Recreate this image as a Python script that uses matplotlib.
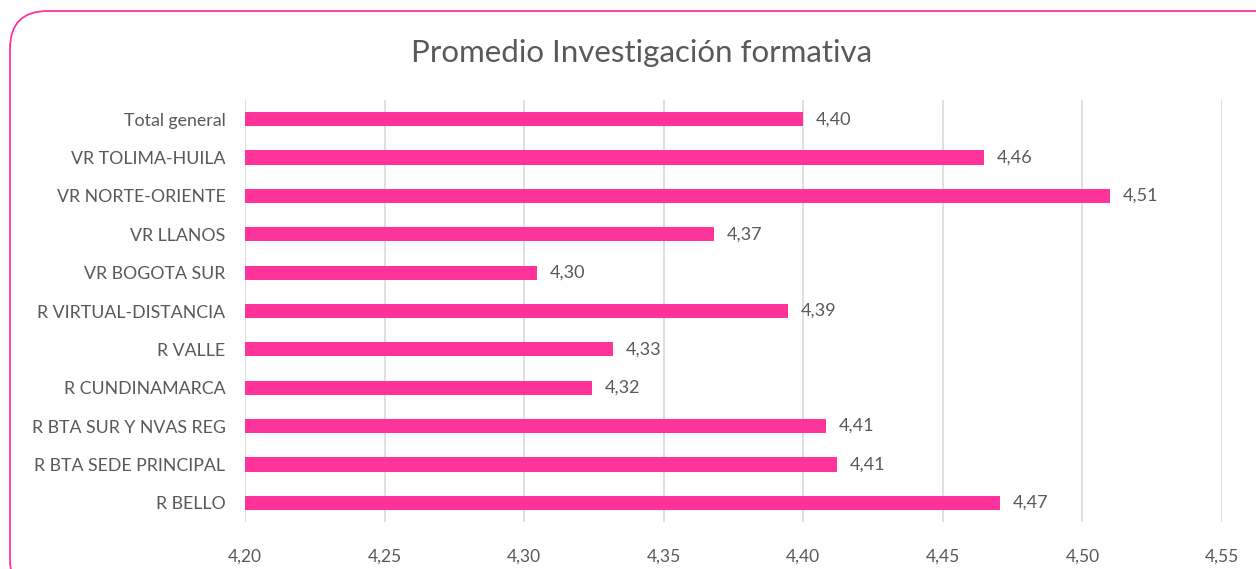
import matplotlib
matplotlib.use("Agg")
import matplotlib.pyplot as plt
from matplotlib.patches import FancyBboxPatch
import numpy as np

categorias = ['R BELLO', 'R BTA SEDE PRINCIPAL', 'R BTA SUR Y NVAS REG', 'R CUNDINAMARCA',
              'R VALLE', 'R VIRTUAL-DISTANCIA', 'VR BOGOTA SUR', 'VR LLANOS',
              'VR NORTE-ORIENTE', 'VR TOLIMA-HUILA', 'Total general']
promedios = [4.4705, 4.4121, 4.4082, 4.3243, 4.3319, 4.3946, 4.3046, 4.368, 4.5099, 4.4648, 4.400]
ticks_x = [4.20, 4.25, 4.30, 4.35, 4.40, 4.45, 4.50, 4.55]

rosa = '#FF3399'
gris = '#595959'
plt.rcParams['font.family'] = ['Lato', 'DejaVu Sans']

fig = plt.figure(figsize=(12.56, 5.69), dpi=100)
ax = fig.add_axes([0.195, 0.0826, 0.778, 0.7416])

y = np.arange(len(categorias))
ax.barh(y, [p - 4.2 for p in promedios], left=4.2, height=0.37, color=rosa, zorder=3)
for yi, p in zip(y, promedios):
    ax.text(p + 0.0045, yi, ('%.2f' % p).replace('.', ','), va='center', ha='left',
            fontsize=13, color=gris)

ax.set_xlim(4.2, 4.55)
ax.set_ylim(-0.5, 10.5)
ax.set_xticks(ticks_x)
ax.set_xticklabels([('%.2f' % t).replace('.', ',') for t in ticks_x], fontsize=12.5, color=gris)
ax.set_yticks(y)
ax.set_yticklabels(categorias, fontsize=12.8, color=gris)
ax.tick_params(length=0, pad=19, axis='x')
ax.tick_params(length=0, pad=14, axis='y')
ax.grid(axis='x', color='#D9D9D9', linewidth=1.2, zorder=0)
for s in ax.spines.values():
    s.set_visible(False)

fig.text(0.511, 0.907, 'Promedio Investigación formativa', ha='center', va='center',
         fontsize=22.5, color=gris)

borde = FancyBboxPatch((10 / 1256, -0.05), 1.1, 1 - 11 / 569 + 0.05,
                       boxstyle='round,pad=0,rounding_size=0.03',
                       transform=fig.transFigure, fill=False, edgecolor=rosa,
                       linewidth=1.3, mutation_aspect=1256 / 569)
fig.patches.append(borde)

fig.savefig('out.png', dpi=100)
